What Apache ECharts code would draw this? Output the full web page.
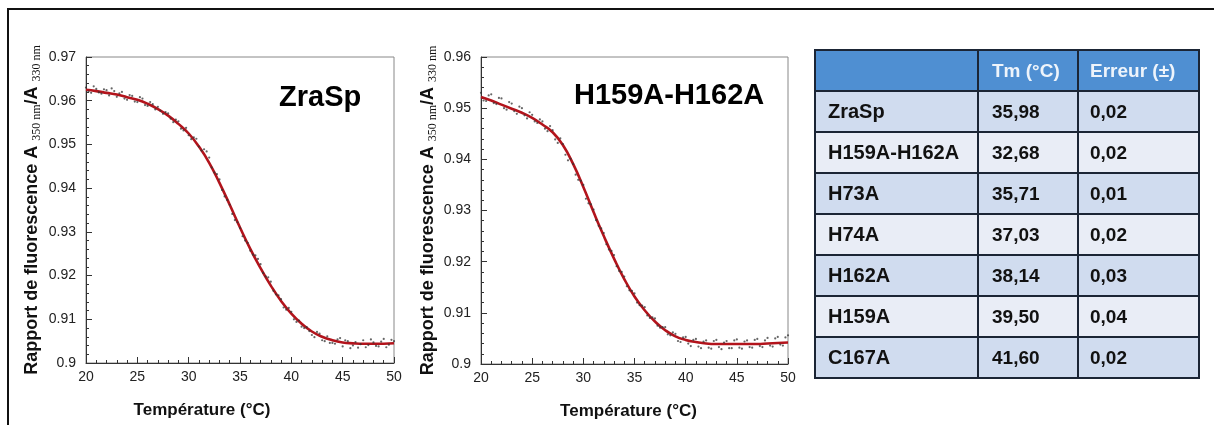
<!DOCTYPE html>
<html><head><meta charset="utf-8">
<script src="https://cdn.jsdelivr.net/npm/echarts@6/dist/echarts.min.js"></script>
<style>html,body{margin:0;padding:0;background:#fff;}#c{width:1214px;height:425px;}</style>
</head><body><div id="c"></div>
<script>
// ---------- data ----------
const fitTemps = [20,21,22,23,24,25,26,27,28,29,30,31,32,33,34,35,36,37,38,39,40,41,42,43,44,45,46,47,48,49,50];
const zraspFit = [0.9625,0.9622,0.9618,0.9614,0.9608,0.9602,0.9593,0.9581,0.9566,0.9547,0.9525,0.9495,0.9458,0.9412,0.9362,0.9310,0.9261,0.9217,0.9177,0.9142,0.9113,0.9090,0.9072,0.9060,0.9052,0.9047,0.9045,0.9044,0.9044,0.9044,0.9045];
const h159h162Fit = [0.9522,0.9515,0.9507,0.9499,0.9491,0.9481,0.9468,0.9453,0.9428,0.9391,0.9346,0.9297,0.9250,0.9206,0.9166,0.9132,0.9105,0.9083,0.9066,0.9054,0.9047,0.9043,0.9040,0.9039,0.9039,0.9039,0.9039,0.9039,0.9040,0.9041,0.9042];

const dotTemps = [20,20.25,20.5,20.75,21,21.25,21.5,21.75,22,22.25,22.5,22.75,23,23.25,23.5,23.75,24,24.25,24.5,24.75,25,25.25,25.5,25.75,26,26.25,26.5,26.75,27,27.25,27.5,27.75,28,28.25,28.5,28.75,29,29.25,29.5,29.75,30,30.25,30.5,30.75,31,31.25,31.5,31.75,32,32.25,32.5,32.75,33,33.25,33.5,33.75,34,34.25,34.5,34.75,35,35.25,35.5,35.75,36,36.25,36.5,36.75,37,37.25,37.5,37.75,38,38.25,38.5,38.75,39,39.25,39.5,39.75,40,40.25,40.5,40.75,41,41.25,41.5,41.75,42,42.25,42.5,42.75,43,43.25,43.5,43.75,44,44.25,44.5,44.75,45,45.25,45.5,45.75,46,46.25,46.5,46.75,47,47.25,47.5,47.75,48,48.25,48.5,48.75,49,49.25,49.5,49.75,50];
const zraspDots = [0.9630,0.9621,0.9618,0.9633,0.9627,0.9619,0.9616,0.9626,0.9624,0.9612,0.9628,0.9622,0.9609,0.9617,0.9620,0.9605,0.9602,0.9613,0.9611,0.9598,0.9597,0.9608,0.9605,0.9590,0.9588,0.9597,0.9592,0.9580,0.9586,0.9577,0.9570,0.9574,0.9571,0.9559,0.9551,0.9557,0.9553,0.9536,0.9532,0.9538,0.9521,0.9512,0.9516,0.9513,0.9495,0.9486,0.9489,0.9484,0.9470,0.9447,0.9436,0.9432,0.9420,0.9396,0.9381,0.9373,0.9362,0.9341,0.9327,0.9322,0.9309,0.9290,0.9280,0.9275,0.9257,0.9248,0.9246,0.9238,0.9226,0.9206,0.9198,0.9196,0.9186,0.9165,0.9157,0.9155,0.9146,0.9127,0.9122,0.9126,0.9117,0.9100,0.9094,0.9097,0.9083,0.9080,0.9082,0.9073,0.9064,0.9059,0.9071,0.9067,0.9052,0.9050,0.9061,0.9046,0.9046,0.9044,0.9054,0.9057,0.9038,0.9052,0.9050,0.9034,0.9040,0.9048,0.9035,0.9043,0.9052,0.9036,0.9041,0.9054,0.9047,0.9039,0.9038,0.9049,0.9055,0.9036,0.9042,0.9053,0.9050];
const h159h162Dots = [0.9530,0.9515,0.9514,0.9525,0.9527,0.9510,0.9508,0.9520,0.9519,0.9500,0.9497,0.9512,0.9509,0.9494,0.9489,0.9503,0.9500,0.9486,0.9480,0.9492,0.9487,0.9474,0.9471,0.9478,0.9474,0.9460,0.9455,0.9465,0.9457,0.9439,0.9432,0.9441,0.9430,0.9409,0.9398,0.9401,0.9391,0.9370,0.9360,0.9358,0.9350,0.9323,0.9314,0.9312,0.9302,0.9281,0.9270,0.9265,0.9256,0.9234,0.9224,0.9221,0.9213,0.9191,0.9182,0.9180,0.9171,0.9152,0.9144,0.9143,0.9138,0.9120,0.9115,0.9114,0.9111,0.9095,0.9090,0.9091,0.9089,0.9075,0.9071,0.9072,0.9072,0.9058,0.9056,0.9062,0.9059,0.9045,0.9043,0.9052,0.9053,0.9040,0.9035,0.9047,0.9049,0.9034,0.9031,0.9044,0.9046,0.9032,0.9030,0.9045,0.9047,0.9033,0.9029,0.9042,0.9045,0.9031,0.9031,0.9046,0.9048,0.9032,0.9030,0.9044,0.9046,0.9033,0.9032,0.9047,0.9049,0.9035,0.9033,0.9046,0.9051,0.9036,0.9034,0.9050,0.9053,0.9038,0.9036,0.9052,0.9056];

const panelTitles = ['ZraSp', 'H159A-H162A'];
const tableHeader = ['', 'Tm (°C)', 'Erreur (±)'];
const mutants = ['ZraSp','H159A-H162A','H73A','H74A','H162A','H159A','C167A'];
const tmValues = ['35,98','32,68','35,71','37,03','38,14','39,50','41,60'];
const errValues = ['0,02','0,02','0,01','0,02','0,03','0,04','0,02'];

// ---------- helpers ----------
const FONT = '"Liberation Sans", Arial, sans-serif';
function pairs(xs, ys) { return xs.map((x, i) => [x, ys[i]]); }

function xAxisCfg(gi, padRight) {
  return {
    type: 'value', gridIndex: gi, min: 20, max: 50, interval: 5,
    axisLine: { lineStyle: { color: '#333', width: 1 } },
    axisTick: { inside: true, length: 6, lineStyle: { color: '#333' } },
    minorTick: { show: true, splitNumber: 5, length: 3, lineStyle: { color: '#333' } },
    splitLine: { show: false },
    axisLabel: { fontSize: 14, color: '#222', margin: 7, fontFamily: FONT },
    name: 'Température (°C)', nameLocation: 'middle', nameGap: 39,
    nameTextStyle: { fontSize: 17, fontWeight: 'bold', color: '#111', fontFamily: FONT, padding: [0, padRight, 0, 0] }
  };
}
function yAxisCfg(gi, max, gap) {
  return {
    type: 'value', gridIndex: gi, min: 0.9, max: max, interval: 0.01,
    axisLine: { lineStyle: { color: '#333', width: 1 } },
    axisTick: { inside: true, length: 6, lineStyle: { color: '#333' } },
    minorTick: { show: true, splitNumber: 5, length: 3, lineStyle: { color: '#333' } },
    splitLine: { show: false },
    axisLabel: { fontSize: 14, color: '#222', margin: 10, fontFamily: FONT },
    name: '{m|Rapport de fluorescence A }{s|350 nm}{m|/A }{s|330 nm}',
    nameLocation: 'middle', nameRotate: 90, nameGap: gap,
    nameTextStyle: {
      fontSize: 18, fontWeight: 'bold', color: '#111', fontFamily: FONT,
      rich: {
        m: { fontSize: 18, fontWeight: 'bold', color: '#111', fontFamily: FONT, lineHeight: 21 },
        s: { fontSize: 12, fontWeight: 'normal', color: '#111', fontFamily: '"Liberation Serif", serif', lineHeight: 21, verticalAlign: 'bottom', padding: [7, 0, 0, 0] }
      }
    }
  };
}

// ---------- table (graphic) ----------
const tX = 815, tY = 50, rowH = 41, colW = [163, 100, 121];
const colX = [tX, tX + colW[0], tX + colW[0] + colW[1]];
const textPad = [13, 14, 12];
const tableEls = [];
const rows = [tableHeader].concat(mutants.map((m, i) => [m, tmValues[i], errValues[i]]));
rows.forEach((row, r) => {
  const y = tY + r * rowH;
  const fill = r === 0 ? '#4F8FD2' : (r % 2 === 1 ? '#D0DCEF' : '#E9EDF6');
  row.forEach((txt, c) => {
    tableEls.push({ type: 'rect', shape: { x: colX[c], y: y, width: colW[c], height: rowH },
      style: { fill: fill, stroke: '#1B2535', lineWidth: 2 }, z: 1 });
    if (txt) tableEls.push({ type: 'text', z: 2, style: {
      text: txt, x: colX[c] + textPad[c], y: y + rowH / 2 + 1, align: 'left', verticalAlign: 'middle',
      fontSize: c === 0 && r > 0 ? 20 : 19, fontWeight: 'bold', fontFamily: FONT, fill: r === 0 ? '#EEF4FB' : '#111' } });
  });
});

const chart = echarts.init(document.getElementById('c'), null, { renderer: 'canvas' });
chart.setOption({
  backgroundColor: '#fff',
  animation: false,
  title: [
    { text: panelTitles[0], left: 274, top: 78, textStyle: { fontSize: 29, fontWeight: 'bold', color: '#000', fontFamily: FONT } },
    { text: panelTitles[1], left: 569, top: 76, textStyle: { fontSize: 29, fontWeight: 'bold', color: '#000', fontFamily: FONT } }
  ],
  grid: [
    { left: 86, top: 57, width: 308, height: 306, show: true, borderColor: '#888', borderWidth: 1, backgroundColor: 'transparent' },
    { left: 481, top: 57, width: 307, height: 307, show: true, borderColor: '#888', borderWidth: 1, backgroundColor: 'transparent' }
  ],
  xAxis: [xAxisCfg(0, 76), xAxisCfg(1, 12)],
  yAxis: [yAxisCfg(0, 0.97, 43), yAxisCfg(1, 0.96, 42)],
  series: [
    { type: 'line', xAxisIndex: 0, yAxisIndex: 0, data: pairs(fitTemps, zraspFit), smooth: 0.5,
      symbol: 'none', lineStyle: { color: '#B3141C', width: 2.6 }, z: 2 },
    { type: 'scatter', xAxisIndex: 0, yAxisIndex: 0, data: pairs(dotTemps, zraspDots), symbolSize: 2.2,
      itemStyle: { color: '#333', opacity: 0.75 }, z: 3 },
    { type: 'line', xAxisIndex: 1, yAxisIndex: 1, data: pairs(fitTemps, h159h162Fit), smooth: 0.5,
      symbol: 'none', lineStyle: { color: '#B3141C', width: 2.6 }, z: 2 },
    { type: 'scatter', xAxisIndex: 1, yAxisIndex: 1, data: pairs(dotTemps, h159h162Dots), symbolSize: 2.2,
      itemStyle: { color: '#333', opacity: 0.75 }, z: 3 }
  ],
  graphic: [
    { type: 'rect', z: 0, silent: true, shape: { x: 8, y: 9, width: 1240, height: 450 },
      style: { fill: 'rgba(0,0,0,0)', stroke: '#111', lineWidth: 2 } },
    { type: 'group', children: tableEls }
  ]
});
</script></body></html>
